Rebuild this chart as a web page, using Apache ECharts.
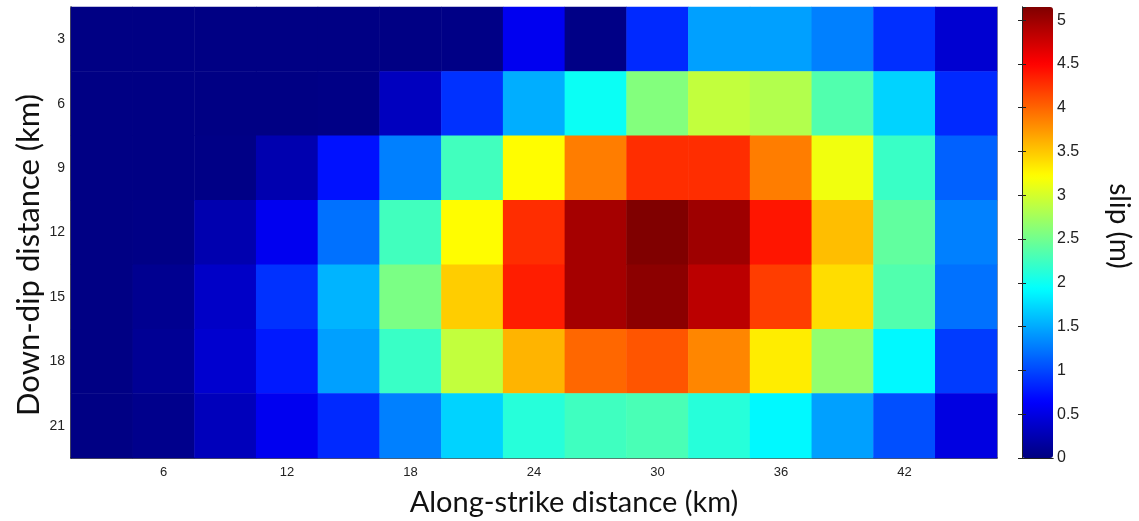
<!DOCTYPE html>
<html>
<head>
<meta charset="utf-8">
<script src="https://cdn.jsdelivr.net/npm/echarts@6/dist/echarts.min.js"></script>
<style>
html,body{margin:0;padding:0;background:#fff;}
#chart{width:1139px;height:521px;}
</style>
</head>
<body>
<div id="chart"></div>
<script>
// Along-strike (x) categories, km
const xCats = ['3','6','9','12','15','18','21','24','27','30','33','36','39','42','45'];
// Down-dip (y) categories, km
const yCats = ['3','6','9','12','15','18','21'];
// Slip (m) per down-dip row, along strike
const slipY3  = [0.02,0.02,0.02,0.02,0.02,0.02,0.03,0.57,0.03,0.85,1.45,1.45,1.29,0.88,0.41];
const slipY6  = [0.02,0.02,0.02,0.02,0.03,0.32,0.89,1.52,1.98,2.59,2.91,2.83,2.34,1.71,0.85];
const slipY9  = [0.02,0.02,0.03,0.24,0.73,1.29,2.26,3.23,3.88,4.28,4.28,3.88,3.15,2.22,1.13];
const slipY12 = [0.02,0.03,0.24,0.57,1.21,2.26,3.23,4.28,4.96,5.15,5.00,4.40,3.55,2.42,1.29];
const slipY15 = [0.02,0.08,0.36,0.89,1.55,2.55,3.47,4.36,4.96,5.09,4.85,4.20,3.39,2.34,1.21];
const slipY18 = [0.02,0.10,0.40,0.77,1.45,2.22,2.91,3.60,3.99,4.08,3.83,3.31,2.66,1.90,0.94];
const slipY21 = [0.02,0.06,0.30,0.57,0.85,1.29,1.71,2.12,2.25,2.30,2.12,1.90,1.45,1.04,0.49];
const slipRows = [slipY3, slipY6, slipY9, slipY12, slipY15, slipY18, slipY21];
const slipMin = 0, slipMax = 5.15;
const jet = ['#000080','#0000ff','#0080ff','#00ffff','#80ff80','#ffff00','#ff8000','#ff0000','#800000'];

const cells = [];
slipRows.forEach((row, yi) => row.forEach((v, xi) => cells.push([xi, yi, v])));

const tickFont = 'Liberation Sans, Arial, sans-serif';
const titleFont = 'Lato, "Open Sans", sans-serif';
const oddOnly = (i) => i % 2 === 1;

const chart = echarts.init(document.getElementById('chart'), null, {renderer: 'canvas'});
chart.setOption({
  animation: false,
  backgroundColor: '#ffffff',
  grid: [
    {left: 71, top: 7, width: 926, height: 451},
    {left: 1022, top: 7, width: 31, height: 451}
  ],
  xAxis: [
    {
      type: 'category', gridIndex: 0, data: xCats, position: 'bottom',
      axisLine: {lineStyle: {color: '#222', width: 1.5}},
      axisTick: {inside: true, length: 6, alignWithLabel: true, interval: oddOnly, lineStyle: {color: '#222'}},
      axisLabel: {interval: oddOnly, color: '#222', fontSize: 13, fontFamily: tickFont, margin: 8},
      splitLine: {show: false}
    },
    {
      type: 'category', gridIndex: 0, data: xCats, position: 'top',
      axisLine: {lineStyle: {color: '#999', width: 1}},
      axisTick: {inside: true, length: 6, alignWithLabel: true, interval: oddOnly, lineStyle: {color: '#222'}},
      axisLabel: {show: false}
    },
    {
      type: 'value', gridIndex: 1, position: 'bottom', min: 0, max: 1, z: 10,
      axisLine: {lineStyle: {color: '#222', width: 1}}, axisTick: {show: false}, axisLabel: {show: false}, splitLine: {show: false}
    },
    {
      type: 'value', gridIndex: 1, position: 'top', min: 0, max: 1, z: 10,
      axisLine: {lineStyle: {color: '#222', width: 1}}, axisTick: {show: false}, axisLabel: {show: false}, splitLine: {show: false}
    }
  ],
  yAxis: [
    {
      type: 'category', gridIndex: 0, data: yCats, inverse: true, position: 'left',
      axisLine: {lineStyle: {color: '#222', width: 1.5}},
      axisTick: {inside: true, length: 6, alignWithLabel: true, lineStyle: {color: '#222'}},
      axisLabel: {color: '#222', fontSize: 14, fontFamily: tickFont, margin: 6},
      splitLine: {show: false}
    },
    {
      type: 'category', gridIndex: 0, data: yCats, inverse: true, position: 'right',
      axisLine: {lineStyle: {color: '#999', width: 1}},
      axisTick: {inside: true, length: 6, alignWithLabel: true, lineStyle: {color: '#222'}},
      axisLabel: {show: false}
    },
    {
      type: 'value', gridIndex: 1, position: 'right', min: slipMin, max: slipMax, interval: 0.5, z: 10,
      axisLine: {lineStyle: {color: '#222', width: 1}},
      axisTick: {inside: true, length: 4, lineStyle: {color: '#222'}},
      axisLabel: {color: '#222', fontSize: 16, fontFamily: tickFont, margin: 4, showMaxLabel: false},
      splitLine: {show: false}
    },
    {
      type: 'value', gridIndex: 1, position: 'left', min: slipMin, max: slipMax, interval: 0.5, z: 10,
      axisLine: {lineStyle: {color: '#222', width: 1}},
      axisTick: {inside: true, length: 4, lineStyle: {color: '#222'}},
      axisLabel: {show: false},
      splitLine: {show: false}
    }
  ],
  visualMap: {
    type: 'continuous', seriesIndex: 0, dimension: 2,
    min: slipMin, max: slipMax, calculable: false, realtime: false,
    orient: 'vertical', left: 1022, top: 7, itemWidth: 31, itemHeight: 451,
    padding: 0, text: ['', ''], showLabel: false, hoverLink: false,
    inRange: {color: jet}
  },
  series: [{
    type: 'heatmap', xAxisIndex: 0, yAxisIndex: 0, data: cells,
    itemStyle: {borderWidth: 0},
    emphasis: {disabled: true}
  }],
  graphic: [
    {type: 'text', x: 574, y: 503, style: {text: 'Along-strike distance (km)', font: '29px ' + titleFont, fill: '#111', textAlign: 'center', textVerticalAlign: 'middle', align: 'center', verticalAlign: 'middle'}},
    {type: 'text', x: 29, y: 255, rotation: Math.PI / 2, style: {text: 'Down-dip distance (km)', font: '31px ' + titleFont, fill: '#111', textAlign: 'center', textVerticalAlign: 'middle', align: 'center', verticalAlign: 'middle'}},
    {type: 'text', x: 1119, y: 226, rotation: -Math.PI / 2, style: {text: 'slip (m)', font: '28px ' + titleFont, fill: '#111', textAlign: 'center', textVerticalAlign: 'middle', align: 'center', verticalAlign: 'middle'}}
  ]
});
</script>
</body>
</html>
